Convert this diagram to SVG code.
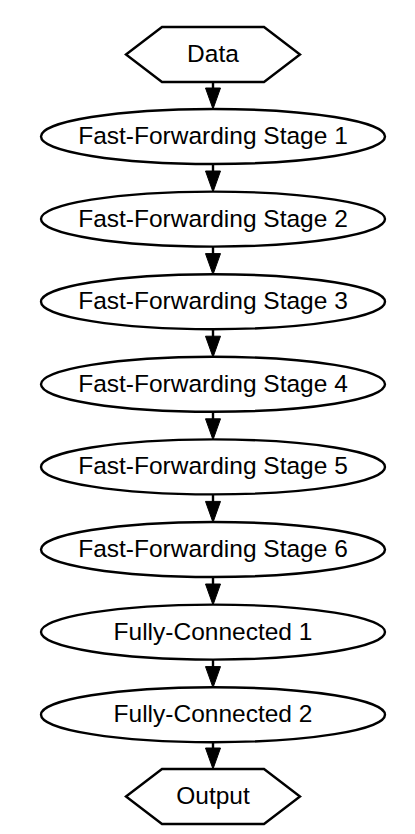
<svg xmlns="http://www.w3.org/2000/svg" width="415" height="834" viewBox="0 0 415 834">
<defs>
<style>
.n{fill:#fff;stroke:#000;stroke-width:2.4}
.t{font-family:"Liberation Sans",Arial,sans-serif;font-size:24.5px;fill:#000;text-anchor:middle}
.e{stroke:#000;stroke-width:2.4;fill:none}
.h{fill:#000;stroke:#000;stroke-width:1}
</style>
</defs>
<rect width="415" height="834" fill="#fff"/>
<g id="connectors">
<line class="e" x1="213" y1="82" x2="213" y2="92"/><polygon class="h" points="205.5,88 220.5,88 213,109"/>
<line class="e" x1="213" y1="164" x2="213" y2="175"/><polygon class="h" points="205.5,171 220.5,171 213,192"/>
<line class="e" x1="213" y1="246.6" x2="213" y2="258"/><polygon class="h" points="205.5,253.6 220.5,253.6 213,274.6"/>
<line class="e" x1="213" y1="329.2" x2="213" y2="340"/><polygon class="h" points="205.5,336.2 220.5,336.2 213,357.2"/>
<line class="e" x1="213" y1="411.8" x2="213" y2="423"/><polygon class="h" points="205.5,418.8 220.5,418.8 213,439.8"/>
<line class="e" x1="213" y1="494.4" x2="213" y2="505"/><polygon class="h" points="205.5,501.4 220.5,501.4 213,522.4"/>
<line class="e" x1="213" y1="577" x2="213" y2="588"/><polygon class="h" points="205.5,584 220.5,584 213,605"/>
<line class="e" x1="213" y1="659.6" x2="213" y2="670"/><polygon class="h" points="205.5,666.6 220.5,666.6 213,687.6"/>
<line class="e" x1="213" y1="742.2" x2="213" y2="752"/><polygon class="h" points="205.5,748 220.5,748 213,769"/>
</g>
<g id="data"><polygon class="n" points="126,54.5 162,27 264,27 300,54.5 264,82 162,82"/><text class="t" x="213" y="62">Data</text></g>
<g id="ff1"><ellipse class="n" cx="213" cy="136.5" rx="172" ry="27.5"/><text class="t" x="213" y="144">Fast-Forwarding Stage 1</text></g>
<g id="ff2"><ellipse class="n" cx="213" cy="219.1" rx="172" ry="27.5"/><text class="t" x="213" y="226.6">Fast-Forwarding Stage 2</text></g>
<g id="ff3"><ellipse class="n" cx="213" cy="301.7" rx="172" ry="27.5"/><text class="t" x="213" y="309.2">Fast-Forwarding Stage 3</text></g>
<g id="ff4"><ellipse class="n" cx="213" cy="384.3" rx="172" ry="27.5"/><text class="t" x="213" y="391.8">Fast-Forwarding Stage 4</text></g>
<g id="ff5"><ellipse class="n" cx="213" cy="466.9" rx="172" ry="27.5"/><text class="t" x="213" y="474.4">Fast-Forwarding Stage 5</text></g>
<g id="ff6"><ellipse class="n" cx="213" cy="549.5" rx="172" ry="27.5"/><text class="t" x="213" y="557">Fast-Forwarding Stage 6</text></g>
<g id="fc1"><ellipse class="n" cx="213" cy="632.1" rx="172" ry="27.5"/><text class="t" x="213" y="639.6">Fully-Connected 1</text></g>
<g id="fc2"><ellipse class="n" cx="213" cy="714.7" rx="172" ry="27.5"/><text class="t" x="213" y="722.2">Fully-Connected 2</text></g>
<g id="output"><polygon class="n" points="126,796.5 162,769 264,769 300,796.5 264,824 162,824"/><text class="t" x="213" y="804">Output</text></g>
</svg>
